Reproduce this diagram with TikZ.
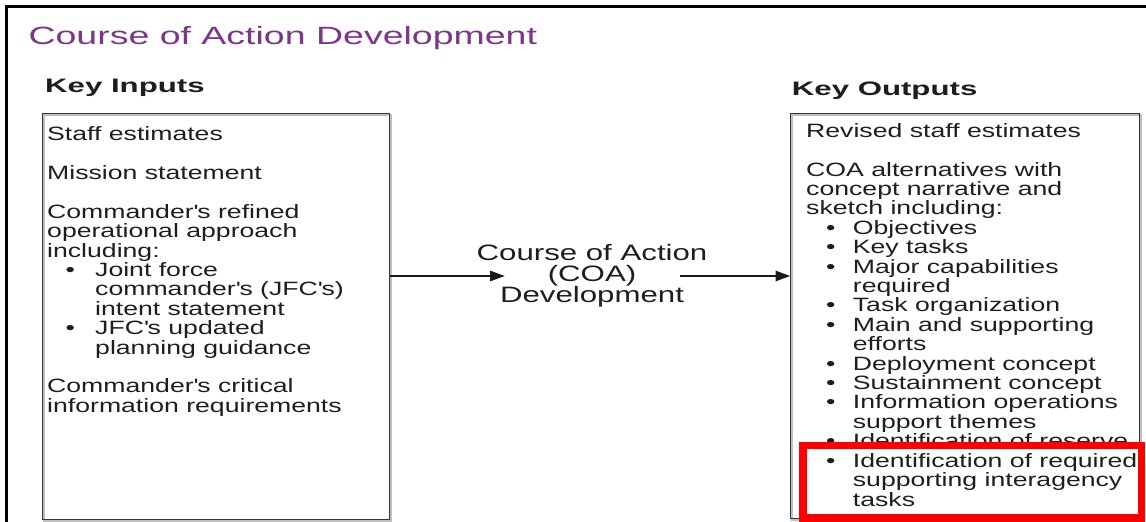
\documentclass[tikz,border=0pt]{standalone}
\usepackage{fontspec}
\usetikzlibrary{arrows.meta}
\newfontfamily\bodyf[FakeStretch=1.38]{Liberation Sans}
\newfontfamily\keyf[FakeStretch=1.6]{Liberation Sans}
\newfontfamily\titlef[FakeStretch=1.5]{Liberation Sans}
\newfontfamily\midf[FakeStretch=1.4]{Liberation Sans}
\newcommand\ap{\textquotesingle}
\newcommand\bl[2]{\hspace*{#1}\makebox[#2][l]{•}}
\definecolor{tc}{RGB}{30,30,30}
\definecolor{titlec}{RGB}{125,55,135}
\definecolor{boxc}{RGB}{55,55,55}
\begin{document}
\begin{tikzpicture}[x=1pt,y=-1pt,
  txt/.style={inner sep=0pt, anchor=base west, align=left, text=tc,
    font=\bodyf\fontsize{19.3}{19.4}\selectfont},
  keyhead/.style={inner sep=0pt, anchor=base west, text=tc,
    font=\keyf\bfseries\fontsize{19.5}{22}\selectfont},
  box/.style={draw=boxc, line width=1.6pt, rectangle, inner sep=0pt, outer sep=0pt, anchor=north west,
    preaction={draw=black!25, line width=1.6pt, transform canvas={shift={(1.6pt,-1.6pt)}}}},
  arr/.style={line width=2.8pt, draw=black!90, -{Triangle[length=15pt,width=10pt]}},
]
\useasboundingbox (0,0) rectangle (1146,522);
\fill[white] (0,0) rectangle (1146,522);
% outer frame
\draw[line width=3pt, black] (6.5,522) -- (6.5,6.5) -- (1146,6.5);
% title
\node[inner sep=0pt, anchor=base west, text=titlec,
  font=\titlef\fontsize{25}{28}\selectfont] (title) at (28.3,44.3) {Course of Action Development};
% headings
\node[keyhead] (kin) at (45,92.3) {Key Inputs};
\node[keyhead] (kout) at (791.7,95) {Key Outputs};
% boxes
\node[box, minimum width=347pt, minimum height=406pt] (inbox) at (42.5,113.3) {};
\node[box, minimum width=349pt, minimum height=405pt] (outbox) at (790.5,113.3) {};
% left text (anchor = baseline of last line)
\node[txt] (intext) at (47,412.3) {Staff estimates\\[19.4pt]
Mission statement\\[19.4pt]
Commander\ap s refined\\
operational approach\\
including:\\
\bl{18.5pt}{29.5pt}Joint force\\
\hspace*{48pt}commander\ap s (JFC\ap s)\\
\hspace*{48pt}intent statement\\
\bl{18.5pt}{29.5pt}JFC\ap s updated\\
\hspace*{48pt}planning guidance\\[19.4pt]
Commander\ap s critical\\
information requirements};
% right text (anchor = baseline of last line)
\node[txt] (outtext) at (806,447.7) {Revised staff estimates\\[19.4pt]
COA alternatives with\\
concept narrative and\\
sketch including:\\
\bl{20pt}{26.7pt}Objectives\\
\bl{20pt}{26.7pt}Key tasks\\
\bl{20pt}{26.7pt}Major capabilities\\
\hspace*{46.7pt}required\\
\bl{20pt}{26.7pt}Task organization\\
\bl{20pt}{26.7pt}Main and supporting\\
\hspace*{46.7pt}efforts\\
\bl{20pt}{26.7pt}Deployment concept\\
\bl{20pt}{26.7pt}Sustainment concept\\
\bl{20pt}{26.7pt}Information operations\\
\hspace*{46.7pt}support themes\\
\bl{20pt}{26.7pt}Identification of reserve};
% middle
\node[inner sep=0pt, anchor=base, align=center, text=tc,
  font=\midf\fontsize{22.3}{21.2}\selectfont] (coa) at (592,302.5)
  {Course of Action\\(COA)\\Development};
\coordinate (ain) at (505,276);
\coordinate (aout) at (680,276);
\draw[arr] (inbox.east |- ain) -- (ain);
\draw[arr] (aout) -- (outbox.west |- aout);
% highlight
\node[draw=red, line width=7.5pt, fill=white, rectangle, inner sep=0pt, outer sep=0pt, anchor=north west,
  minimum width=338.5pt, minimum height=72.5pt] (hl) at (803,445.5) {};
\node[txt] (lastitem) at (806,506.3) {\bl{20pt}{26.7pt}Identification of required\\
\hspace*{46.7pt}supporting interagency\\
\hspace*{46.7pt}tasks};
\end{tikzpicture}
\end{document}
